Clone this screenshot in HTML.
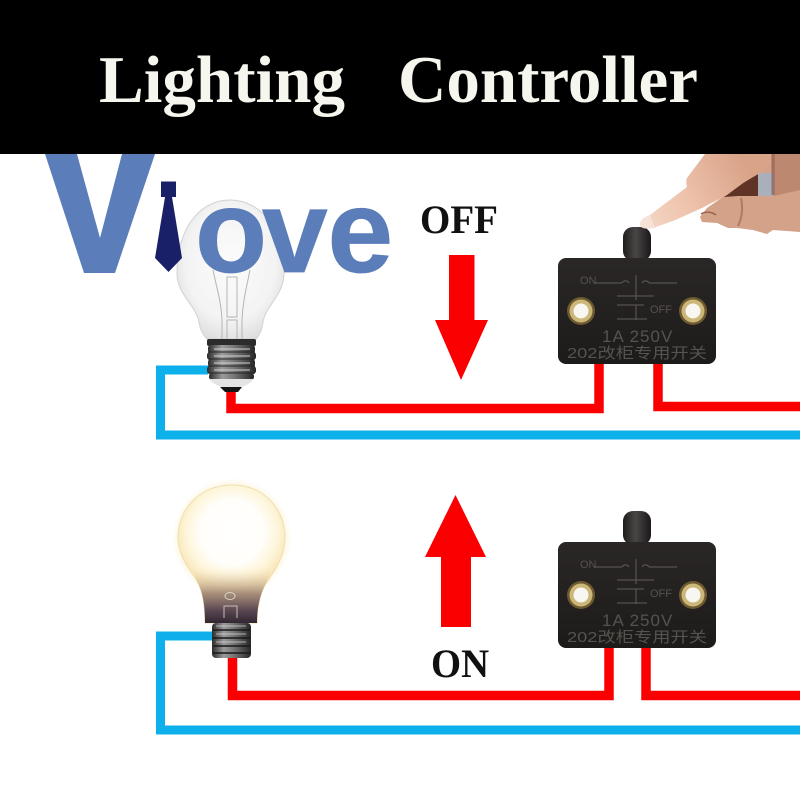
<!DOCTYPE html>
<html><head><meta charset="utf-8"><style>html,body{margin:0;padding:0;background:#fff}svg{display:block}</style></head>
<body>
<svg xmlns="http://www.w3.org/2000/svg" width="800" height="800" viewBox="0 0 800 800">
<defs>
<radialGradient id="glass" cx="50%" cy="45%" r="60%"><stop offset="0" stop-color="#fcfcfc"/><stop offset=".7" stop-color="#f3f3f3"/><stop offset="1" stop-color="#dcdcdc"/></radialGradient>
<linearGradient id="screw" x1="0" x2="1" y1="0" y2="0"><stop offset="0" stop-color="#2c2c2c"/><stop offset=".3" stop-color="#9a9a9a"/><stop offset=".55" stop-color="#777"/><stop offset="1" stop-color="#262626"/></linearGradient>
<radialGradient id="lit" gradientUnits="userSpaceOnUse" cx="232" cy="532" r="58"><stop offset="0" stop-color="#fff"/><stop offset=".55" stop-color="#fffefa"/><stop offset=".8" stop-color="#fdf5d8"/><stop offset="1" stop-color="#f8e5b6"/></radialGradient>
<linearGradient id="neck" gradientUnits="userSpaceOnUse" x1="0" x2="0" y1="568" y2="624"><stop offset="0" stop-color="#f5e1b5" stop-opacity="0"/><stop offset=".45" stop-color="#9a8070" stop-opacity=".85"/><stop offset=".75" stop-color="#5b4852"/><stop offset="1" stop-color="#2e2430"/></linearGradient>
<linearGradient id="sw" x1="0" x2="0" y1="0" y2="1"><stop offset="0" stop-color="#2a2726"/><stop offset="1" stop-color="#1d1b1a"/></linearGradient>
<linearGradient id="btn" x1="0" x2="1" y1="0" y2="0"><stop offset="0" stop-color="#1e1c1c"/><stop offset=".45" stop-color="#4a4646"/><stop offset="1" stop-color="#1a1818"/></linearGradient>
<linearGradient id="skin" gradientUnits="userSpaceOnUse" x1="640" x2="745" y1="225" y2="165"><stop offset="0" stop-color="#f3d8c8"/><stop offset=".4" stop-color="#efc4ae"/><stop offset="1" stop-color="#d9a388"/></linearGradient>
<radialGradient id="halo"><stop offset="0" stop-color="#fdf0c8" stop-opacity=".7"/><stop offset=".88" stop-color="#fdf0c8" stop-opacity=".5"/><stop offset="1" stop-color="#fdf0c8" stop-opacity="0"/></radialGradient>
<g id="switch">
  <rect x="623" y="-31" width="28" height="34" rx="10" fill="url(#btn)"/>
  <rect x="558" y="0" width="158" height="106" rx="8" fill="url(#sw)"/>
  <g fill="none" stroke="#5f5c57" stroke-width="1">
    <path d="M595 25H622M622 25a4 4 0 0 1 7 0M642 25a4 4 0 0 1 7 0M649 25H677M636 17V42"/>
    <path d="M617 38H654M617 47H644M617 61H647M636 47V62"/>
  </g>
  <g fill="#56524e" font-family="'Liberation Sans','Noto Sans CJK SC',sans-serif">
    <text x="580" y="26" font-size="11">ON</text>
    <text x="650" y="55" font-size="11">OFF</text>
    <text x="602" y="84" font-size="17" letter-spacing="1">1A 250V</text>
    <text x="567" y="100" font-size="15" textLength="140" lengthAdjust="spacingAndGlyphs">202改柜专用开关</text>
  </g>
  <g><circle cx="581" cy="53" r="14" fill="#6d5a30"/><circle cx="581" cy="53" r="11.500" fill="#cdb679"/><circle cx="581" cy="53" r="7.500" fill="#f8f6f0"/>
  <circle cx="693" cy="53" r="14" fill="#6d5a30"/><circle cx="693" cy="53" r="11.500" fill="#cdb679"/><circle cx="693" cy="53" r="7.500" fill="#f8f6f0"/></g>
</g>
</defs>

<rect width="800" height="800" fill="#fff"/>

<!-- wires -->
<path d="M208 370H160.500V435H800" fill="none" stroke="#0db0ea" stroke-width="9"/>
<path d="M231 390V408.500H599V364M658 364V406.500H800" fill="none" stroke="#fb0000" stroke-width="9.500"/>
<path d="M214 636H160.500V730H800" fill="none" stroke="#0db0ea" stroke-width="9"/>
<path d="M232.500 655V695.500H609V648M646 648V695.500H800" fill="none" stroke="#fb0000" stroke-width="9.500"/>

<!-- bulb off -->
<path d="M230 200C197 200 177 232 177 273C177 295 196 305 199 322C200 330 204 336 207 339H256C259 336 262 330 263 322C266 305 284 295 284 273C284 232 263 200 230 200Z" fill="url(#glass)" stroke="#d2d2d2" stroke-width="1"/>
<path d="M213 270C217 290 221 300 222 320V342M250 270C246 290 243 300 242 320V342M227 277H237V317H227ZM227 320H237V342H227Z" fill="none" stroke="#b4b4b4" stroke-width="1"/>
<rect x="207" y="339" width="49" height="7" rx="2" fill="#2b2b2b"/>
<g fill="url(#screw)">
  <rect x="208" y="345" width="47" height="8" rx="3"/>
  <rect x="207" y="352" width="49" height="8" rx="3"/>
  <rect x="208" y="359" width="47" height="8" rx="3"/>
  <rect x="207" y="366" width="49" height="8" rx="3"/>
  <rect x="209" y="373" width="45" height="7" rx="3"/>
</g>
<g stroke="#d8d8d8" stroke-width="1.200" opacity=".75"><path d="M214 349H250M214 356H250M214 363H250M214 370H250"/></g>
<g stroke="#252525" stroke-width="1"><path d="M208 352H255M208 359H255M208 366H255M208 373H255"/></g>
<path d="M210 379H253C251 384 244 386 241 387H222C219 386 212 384 210 379Z" fill="#e4e4e4"/>
<path d="M220 387H242L238 392H225Z" fill="#161616"/>

<!-- logo -->
<path d="M45 154H77L100 238L122 154H155L115 273H84Z" fill="#5b7db9"/>
<text y="272" x="195 262 327.500" font-family="'Liberation Sans',sans-serif" font-weight="700" font-size="118" fill="#5b7db9" stroke="#5b7db9" stroke-width=".8">ove</text>
<rect x="161" y="181.500" width="15" height="15.500" fill="#1a2068"/>
<path d="M165 197H172L182 258L168.500 272L155 258Z" fill="#1a2068"/>

<!-- bulb on -->
<ellipse cx="232" cy="538" rx="60" ry="60" fill="url(#halo)"/>
<path d="M232 485C199 485 178 510 178 537C178 560 195 575 199 585C204 597 205 610 205 623H257C257 610 259 597 265 585C271 575 285 560 285 537C285 510 265 485 232 485Z" fill="url(#lit)" stroke="#f1deb0" stroke-width="1"/>
<path d="M192 568H272C269 575 268 580 265 585C259 597 257 610 257 623H205C205 610 204 597 199 585C196 580 195 575 192 568Z" fill="url(#neck)"/>
<ellipse cx="230" cy="596" rx="5" ry="3.500" fill="none" stroke="#d8cfc4" stroke-width="1"/>
<path d="M224 618V606H237V618" fill="none" stroke="#c9bdb4" stroke-width="1"/>
<rect x="212" y="623" width="39" height="35" rx="4" fill="url(#screw)"/>
<g stroke="#191919" stroke-width="1.500"><path d="M213 630H250M213 638H250M213 646H250M213 653H250"/></g>
<g stroke="#ddd" stroke-width="1" opacity=".7"><path d="M216 626H246M216 634H246M216 642H246"/></g>

<!-- arrows -->
<path d="M449 255H474.500V320H488L461 380L435 320H449Z" fill="#fb0000"/>
<path d="M455.500 495L486 557H471V627H441V557H425Z" fill="#fb0000"/>

<!-- switches -->
<use href="#switch" transform="translate(0,258)"/>
<use href="#switch" transform="translate(0,542)"/>

<!-- hand: silhouette, then shadow, notch, index finger -->
<path d="M705 154H800V232L773 230L767 234L753 230L737 228L728 228L717 223L702 222L700 217L707 208L727 194L760 173Z" fill="#d4a189"/>
<path d="M774 154H800V190L774 196Z" fill="#bd8870"/>
<path d="M724 197L743 183L758 173V196H738Z" fill="#5f3426"/>
<rect x="758" y="173" width="16" height="23" fill="#aab0bb"/>
<path d="M640 224C640 220 645 217 650 215L687 187C686 183 686 180 687 178L705 154H772V162L760 173L743 183L727 195L702 208L673 221L653 228C646 229 640 229 640 224Z" fill="url(#skin)"/>
<path d="M640 224C640 220 645 217 650 215L655 228C648 229 640 229 640 224Z" fill="#f6e2d6"/>
<path d="M773 154V195" stroke="#7d4f3d" stroke-width="3" opacity=".6"/>
<path d="M701 214C706 211 712 212 716 215" fill="none" stroke="#9c6450" stroke-width="1.500"/>
<path d="M741 198C743 208 742 218 738 226" fill="none" stroke="#9c5e4a" stroke-width="2" opacity=".6"/>

<!-- banner -->
<rect x="0" y="0" width="800" height="154" fill="#000"/>
<g font-family="'Liberation Serif',serif" font-weight="700" font-size="67" fill="#f6f6ee">
<text x="99" y="102" textLength="246" lengthAdjust="spacingAndGlyphs">Lighting</text>
<text x="398" y="102" textLength="300" lengthAdjust="spacingAndGlyphs">Controller</text>
</g>
<g font-family="'Liberation Serif',serif" font-weight="700" font-size="40" fill="#111">
<text x="420" y="233" textLength="78" lengthAdjust="spacingAndGlyphs">OFF</text>
<text x="431" y="677" textLength="58" lengthAdjust="spacingAndGlyphs">ON</text>
</g>
</svg>
</body></html>
